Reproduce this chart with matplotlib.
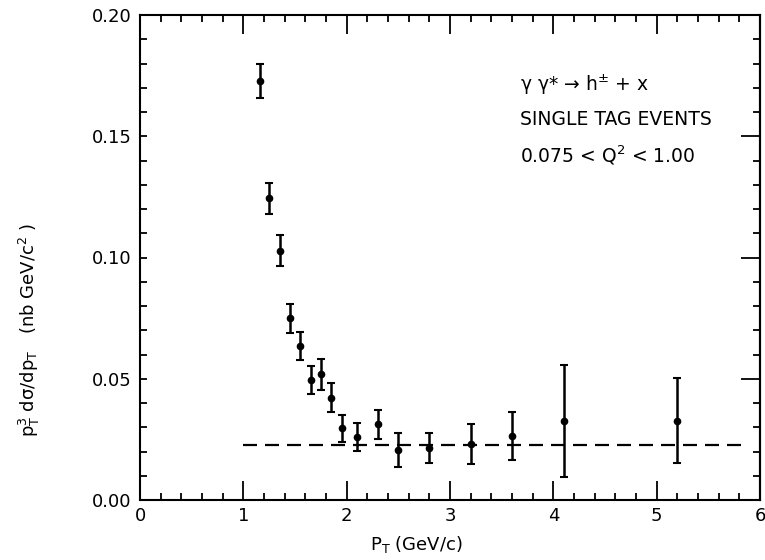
import matplotlib
matplotlib.use("Agg")
import matplotlib.pyplot as plt
from matplotlib.ticker import MultipleLocator, FixedLocator

# ---- data ----
pt = [1.16, 1.25, 1.35, 1.45, 1.55, 1.65, 1.75, 1.85, 1.95, 2.10, 2.30, 2.50, 2.80, 3.20, 3.60, 4.10, 5.20]
xsec = [0.1729, 0.1244, 0.1028, 0.0749, 0.0635, 0.0495, 0.0518, 0.0422, 0.0295, 0.0261,
        0.0312, 0.0206, 0.0213, 0.0232, 0.0264, 0.0326, 0.0327]
xsec_err = [0.0070, 0.0065, 0.0064, 0.0059, 0.0059, 0.0057, 0.0063, 0.0059, 0.0056, 0.0057,
            0.0060, 0.0071, 0.0062, 0.0083, 0.0100, 0.0232, 0.0176]
fit_x = [1.0, 5.82]
fit_level = 0.0227

x_ticks = [0, 1, 2, 3, 4, 5, 6]
y_ticks = [0.00, 0.05, 0.10, 0.15, 0.20]
y_ticklabels = ["0.00", "0.05", "0.10", "0.15", "0.20"]

annot_lines = ["γ γ* → h$^{\\pm}$ + x", "SINGLE TAG EVENTS", "0.075 < Q$^{2}$ < 1.00"]
annot_y = [0.171, 0.157, 0.142]

plt.rcParams['font.family'] = ['DejaVu Sans']
plt.rcParams['mathtext.fontset'] = 'dejavusans'

fig = plt.figure(figsize=(7.65, 5.6), dpi=100)
ax = fig.add_axes([140 / 765, 60 / 560, 620 / 765, 485 / 560])

ax.errorbar(pt, xsec, yerr=xsec_err, fmt='o', ms=4.5, color='black', ecolor='black',
            elinewidth=1.8, capsize=3, capthick=1.5)
ax.plot(fit_x, [fit_level, fit_level], color='black', lw=1.6, dashes=(6.3, 3.6))

ax.set_xlim(0, 6)
ax.set_ylim(0, 0.20)
ax.xaxis.set_major_locator(FixedLocator(x_ticks))
ax.xaxis.set_minor_locator(MultipleLocator(0.2))
ax.yaxis.set_major_locator(FixedLocator(y_ticks))
ax.set_yticklabels(y_ticklabels)
ax.yaxis.set_minor_locator(MultipleLocator(0.01))

for s in ax.spines.values():
    s.set_linewidth(1.5)

ax.tick_params(axis='x', which='both', direction='in', top=True, bottom=True, width=1.3,
               labelsize=13, pad=5)
ax.tick_params(axis='x', which='major', length=14)
ax.tick_params(axis='x', which='minor', length=5)
ax.tick_params(axis='y', which='both', direction='in', left=True, right=False, length=5,
               width=1.3, labelsize=13, pad=6)

sec = ax.secondary_yaxis('right')
sec.yaxis.set_major_locator(FixedLocator(y_ticks))
sec.yaxis.set_minor_locator(MultipleLocator(0.01))
sec.tick_params(axis='y', which='both', direction='in', labelright=False, width=1.3)
sec.tick_params(axis='y', which='major', length=14)
sec.tick_params(axis='y', which='minor', length=5)
sec.spines['right'].set_linewidth(1.5)

for txt, yy in zip(annot_lines, annot_y):
    ax.text(3.68, yy, txt, fontsize=13.5, ha='left', va='center')

ax.set_xlabel("P$_{\\mathrm{T}}$ (GeV/c)", fontsize=13)
ax.xaxis.set_label_coords(0.445, -0.071)
ax.set_ylabel("p$_{\\mathrm{T}}^{3}$ dσ/dp$_{\\mathrm{T}}$   (nb GeV/c$^{2}$ )", fontsize=13)
ax.yaxis.set_label_coords(-0.158, 0.35)

fig.savefig("out.png", dpi=100)
